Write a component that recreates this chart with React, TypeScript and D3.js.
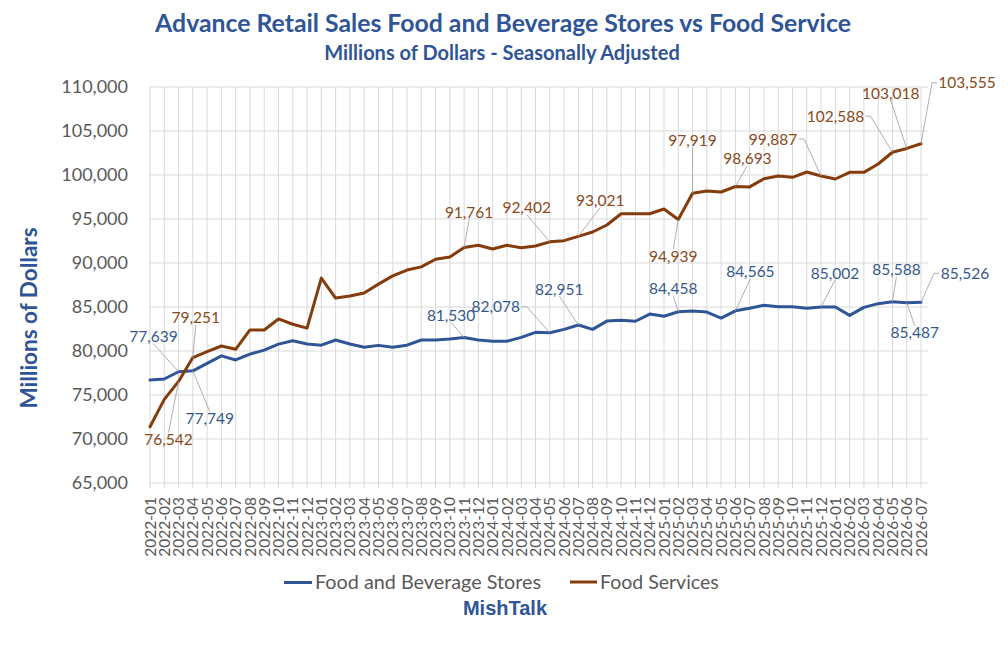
import React from "react";
import * as d3 from "d3";

// categories: 2022-01 .. 2026-07
const months: string[] = d3
    .timeMonths(new Date(2022, 0, 1), new Date(2026, 7, 1))
    .map(d3.timeFormat("%Y-%m"));

const foodBeverage = [
    76700, 76820, 77639, 77749, 78600, 79450, 78980, 79650, 80100, 80780,
    81160, 80800, 80660, 81250, 80790, 80420, 80640, 80420, 80660, 81250,
    81260, 81360, 81530, 81250, 81100, 81100, 81550, 82120, 82078, 82460,
    82951, 82460, 83400, 83500, 83380, 84200, 83950, 84458, 84550, 84430,
    83740, 84565, 84850, 85190, 85040, 85040, 84850, 85002, 85000, 84050,
    84960, 85380, 85588, 85487, 85526
];

const foodServices = [
    71400, 74500, 76542, 79251, 79920, 80570, 80190, 82390, 82390, 83640,
    83040, 82600, 88280, 86020, 86250, 86600, 87600, 88540, 89200, 89560,
    90430, 90680, 91761, 92010, 91590, 92010, 91740, 91930, 92402, 92540,
    93021, 93520, 94320, 95600, 95600, 95600, 96140, 94939, 97919, 98180,
    98070, 98693, 98650, 99580, 99890, 99740, 100340, 99887, 99545, 100300,
    100300, 101250, 102588, 103018, 103555
];

const yTicks = [65000, 70000, 75000, 80000, 85000, 90000, 95000, 100000, 105000, 110000];

// which points carry a data label
const blueLabelIdx = [2, 3, 22, 28, 30, 37, 41, 47, 52, 53, 54];
const brownLabelIdx = [2, 3, 22, 28, 30, 37, 38, 41, 47, 52, 53, 54];

// label placement (offset of label centre from the point, px)
const blueOffsets: Record<number, [number, number]> = {
    2: [-25, -35], 3: [17, 48], 22: [-13, -22], 28: [-54, -26], 30: [-19, -36],
    37: [-5, -23], 41: [15, -39], 47: [14, -34], 52: [4, -32], 53: [8, 30], 54: [44, -29]
};
const brownOffsets: Record<number, [number, number]> = {
    2: [-10, 58], 3: [3, -40], 22: [5, -35], 28: [-23, -34], 30: [22, -36],
    37: [-5, 37], 38: [0, -53], 41: [12, -28], 47: [-48, -37], 52: [-57, -36],
    53: [-16, -55], 54: [46, -61]
};

const BLUE = "#2F5597";
const BROWN = "#843C0C";
const GRID = "#D9D9D9";
const GRAY_TEXT = "#595959";
const FONT = "Lato, 'Open Sans', sans-serif";

const fmt = d3.format(",");

const DataLabels = ({ values, idx, offsets, x, y, color }: any) => {
    return (
        <g>
            {idx.map((i: number) => {
                const px = x(months[i]);
                const py = y(values[i]);
                const [dx, dy] = offsets[i];
                const cx = px + dx;
                const cy = py + dy;
                const label = fmt(values[i]);
                const w = label.length * 8;
                const h = 14;
                let path = "";
                if (px < cx - w / 2 - 4) {
                    const sx = cx - w / 2 - 2;
                    path = `M${sx},${cy}H${sx - 5}L${px},${py}`;
                } else if (px > cx + w / 2 + 4) {
                    const sx = cx + w / 2 + 2;
                    path = `M${sx},${cy}H${sx + 5}L${px},${py}`;
                } else if (py > cy) {
                    path = `M${cx},${cy + h / 2}L${px},${py}`;
                } else {
                    path = `M${cx},${cy - h / 2}L${px},${py}`;
                }
                const dist = Math.hypot(px - cx, py - cy);
                return (
                    <g key={i}>
                        {dist > 18 && (
                            <path d={path} fill="none" stroke="#A6A6A6" strokeWidth={0.9} />
                        )}
                        <text
                            x={cx}
                            y={cy}
                            dy="0.36em"
                            textAnchor="middle"
                            fontFamily={FONT}
                            fontSize={15.5}
                            fill={color}
                        >
                            {label}
                        </text>
                    </g>
                );
            })}
        </g>
    );
};

export default function App() {
    const width = 1008;
    const height = 645;
    const plotLeft = 150;
    const plotRight = 921;
    const gridRight = 928;
    const plotTop = 87;
    const plotBottom = 483;

    const x: any = d3.scalePoint().domain(months).range([plotLeft, plotRight]);
    const y = d3.scaleLinear().domain([65000, 110000]).range([plotBottom, plotTop]);

    const line = (vals: number[]) =>
        d3
            .line<number>()
            .x((_, i) => x(months[i]))
            .y((v) => y(v))(vals) as string;

    return (
        <svg
            width={width}
            height={height}
            style={{ position: "absolute", left: 0, top: 0, background: "#fff" }}
        >
            <rect width={width} height={height} fill="#fff" />

            {/* title */}
            <text x={503} y={32} textAnchor="middle" fontFamily={FONT} fontWeight="bold" fontSize={24.8} fill={BLUE}>
                Advance Retail Sales Food and Beverage Stores vs Food Service
            </text>
            <text x={502} y={60} textAnchor="middle" fontFamily={FONT} fontWeight="bold" fontSize={20} fill={BLUE}>
                Millions of Dollars - Seasonally Adjusted
            </text>

            {/* grid */}
            <g>
                {months.map((m) => (
                    <line key={m} x1={x(m)} x2={x(m)} y1={plotTop} y2={plotBottom + 5} stroke={GRID} strokeWidth={1} />
                ))}
                {yTicks.map((t) => (
                    <line key={t} x1={plotLeft} x2={gridRight} y1={y(t)} y2={y(t)} stroke={GRID} strokeWidth={1} />
                ))}
            </g>

            {/* y axis labels */}
            <g>
                {yTicks.map((t) => (
                    <text key={t} x={128} y={y(t)} dy="0.36em" textAnchor="end" fontFamily={FONT} fontSize={18} fill={GRAY_TEXT}>
                        {fmt(t)}
                    </text>
                ))}
            </g>
            <text
                transform="translate(29,318) rotate(-90)"
                textAnchor="middle"
                dy="0.36em"
                fontFamily={FONT}
                fontWeight="bold"
                fontSize={22.5}
                fill={BLUE}
            >
                Millions of Dollars
            </text>

            {/* x axis labels */}
            <g>
                {months.map((m) => (
                    <text
                        key={m}
                        transform={`translate(${x(m)},497) rotate(-90)`}
                        textAnchor="end"
                        dy="0.36em"
                        fontFamily={FONT}
                        fontSize={15.5}
                        fill={GRAY_TEXT}
                    >
                        {m}
                    </text>
                ))}
            </g>

            {/* series */}
            <path d={line(foodBeverage)} fill="none" stroke={BLUE} strokeWidth={3} strokeLinejoin="round" strokeLinecap="round" />
            <path d={line(foodServices)} fill="none" stroke={BROWN} strokeWidth={3} strokeLinejoin="round" strokeLinecap="round" />

            <DataLabels values={foodBeverage} idx={blueLabelIdx} offsets={blueOffsets} x={x} y={y} color="#35598F" />
            <DataLabels values={foodServices} idx={brownLabelIdx} offsets={brownOffsets} x={x} y={y} color="#8A4A1C" />

            {/* legend */}
            <line x1={284} x2={312} y1={582.5} y2={582.5} stroke={BLUE} strokeWidth={3} />
            <text x={315} y={589} fontFamily={FONT} fontSize={19.8} fill={GRAY_TEXT}>
                Food and Beverage Stores
            </text>
            <line x1={570} x2={597} y1={582} y2={582} stroke={BROWN} strokeWidth={3} />
            <text x={600} y={589} fontFamily={FONT} fontSize={19.5} fill={GRAY_TEXT}>
                Food Services
            </text>

            <text x={505} y={615} textAnchor="middle" fontFamily="'Liberation Sans', Arial, sans-serif" fontWeight="bold" fontSize={20} fill={BLUE}>
                MishTalk
            </text>
        </svg>
    );
}
